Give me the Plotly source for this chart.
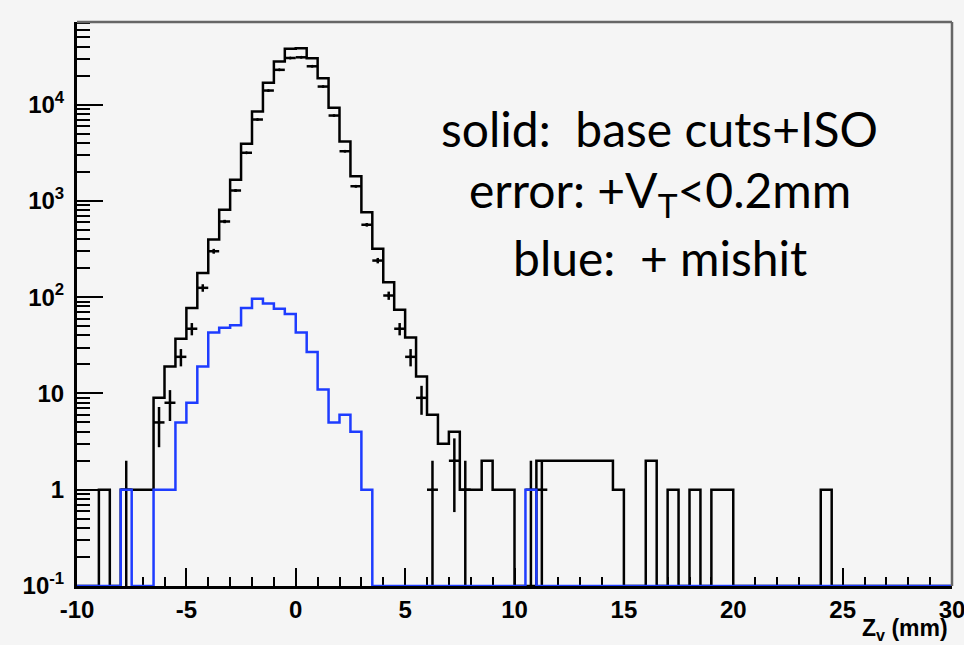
import numpy as np
import plotly.graph_objects as go

# ---- data (0.5 mm bins from -10 to 30 mm) ----
z_lo, z_hi, z_bin = -10.0, 30.0, 0.5

solid_counts = [0, 0, 1, 0, 1, 1, 1, 9, 19, 37,
                77, 178, 397, 809, 1656, 3917, 8480, 16830, 28000, 37950,
                38500, 30300, 18800, 9270, 4140, 1806, 763, 318, 143, 74,
                38, 15, 6, 3, 4, 1, 1, 2, 1, 1,
                0, 0, 2, 2, 2, 2, 2, 2, 2, 1,
                0, 0, 2, 0, 1, 0, 1, 0, 1, 1,
                0, 0, 0, 0, 0, 0, 0, 0, 1, 0,
                0, 0, 0, 0, 0, 0, 0, 0, 0, 0]

mishit_counts = [0, 0, 0, 0, 1, 0, 0, 1, 1, 5,
                 8, 19, 43, 48, 51, 77, 96, 86, 76, 67,
                 43, 27, 11, 5, 6, 4, 1, 0, 0, 0,
                 0, 0, 0, 0, 0, 0, 0, 0, 0, 0,
                 0, 1, 0, 0, 0, 0, 0, 0, 0, 0,
                 0, 0, 0, 0, 0, 0, 0, 0, 0, 0,
                 0, 0, 0, 0, 0, 0, 0, 0, 0, 0,
                 0, 0, 0, 0, 0, 0, 0, 0, 0, 0]

vt_counts = [0, 0, 0, 0, 1, 0, 0, 5, 8, 24,
             47, 125, 300, 611, 1282, 3160, 7000, 14000, 22970, 30500,
             31000, 25000, 15400, 7700, 3280, 1420, 565, 240, 104, 47,
             24, 9, 1, 0, 2, 1, 0, 0, 0, 0,
             0, 1, 1, 0, 0, 0, 0, 0, 0, 0,
             0, 0, 0, 0, 0, 0, 0, 0, 0, 0,
             0, 0, 0, 0, 0, 0, 0, 0, 0, 0,
             0, 0, 0, 0, 0, 0, 0, 0, 0, 0]

x_tick_vals = [-10, -5, 0, 5, 10, 15, 20, 25, 30]
y_tick_vals = [0.1, 1, 10, 100, 1000, 10000]
y_tick_text = ["<b>10<sup>-1</sup></b>", "<b>1</b>", "<b>10</b>", "<b>10<sup>2</sup></b>",
               "<b>10<sup>3</sup></b>", "<b>10<sup>4</sup></b>"]
y_min, y_max_log = 0.1, 4.858

# ---- derived ----
edges = np.arange(z_lo, z_hi + z_bin / 2, z_bin)
centers = edges[:-1] + z_bin / 2


def step_xy(counts):
    c = np.array(counts, dtype=float)
    c = np.where(c > 0, c, y_min)
    x = np.append(edges[:-1], edges[-1])
    y = np.append(c, c[-1])
    return x, y


fig = go.Figure()

sx, sy = step_xy(solid_counts)
fig.add_trace(go.Scatter(x=sx, y=sy, mode="lines", line=dict(color="black", width=2.5, shape="hv"),
                         showlegend=False, hoverinfo="skip"))

vt = np.array(vt_counts, dtype=float)
m = vt > 0
vn = vt[m]
err_up = np.sqrt(vn)
err_dn = vn - np.maximum(vn - np.sqrt(vn), y_min)
fig.add_trace(go.Scatter(x=centers[m], y=vn, mode="markers",
                         marker=dict(color="black", size=3),
                         error_x=dict(type="constant", value=z_bin / 2, color="black", thickness=2.5, width=0),
                         error_y=dict(type="data", array=err_up, arrayminus=err_dn, color="black",
                                      thickness=2.5, width=0),
                         showlegend=False, hoverinfo="skip"))

bx, by = step_xy(mishit_counts)
fig.add_trace(go.Scatter(x=bx, y=by, mode="lines", line=dict(color="rgb(30,60,255)", width=2.5, shape="hv"),
                         showlegend=False, hoverinfo="skip"))

tickfont = dict(family="Liberation Sans, Arial, sans-serif", size=24, color="black")

fig.update_layout(
    width=964, height=645, autosize=False,
    margin=dict(l=77, r=12, t=22, b=59, autoexpand=False),
    paper_bgcolor="#f5f5f5", plot_bgcolor="#f5f5f5",
    xaxis=dict(range=[z_lo, z_hi], tickmode="array", tickvals=x_tick_vals,
               ticktext=[f"<b>{v}</b>" for v in x_tick_vals],
               ticks="inside", ticklen=18, tickwidth=2, tickcolor="black",
               minor=dict(dtick=1, tick0=0, ticks="inside", ticklen=9, tickwidth=2, tickcolor="black"),
               showline=True, linecolor="black", linewidth=3, mirror=False,
               showgrid=False, zeroline=False, tickfont=tickfont, ticklabelstandoff=0,
               ticklabeloverflow="allow", automargin=False, layer="below traces"),
    yaxis=dict(type="log", range=[np.log10(y_min), y_max_log], tickmode="array",
               tickvals=y_tick_vals, ticktext=y_tick_text,
               ticks="inside", ticklen=26, tickwidth=2, tickcolor="black",
               minor=dict(tickvals=[k * 10.0 ** e for e in range(-1, 5) for k in range(2, 10)],
                          ticks="inside", ticklen=13, tickwidth=2, tickcolor="black"),
               showline=True, linecolor="black", linewidth=3, mirror=False,
               showgrid=False, zeroline=False, tickfont=tickfont, ticklabelstandoff=5,
               automargin=False, layer="below traces"),
)

# frame (top and right)
fig.add_shape(type="line", xref="paper", yref="paper", x0=0, x1=1, y0=1, y1=1,
              line=dict(color="#666666", width=2.5))
fig.add_shape(type="line", xref="paper", yref="paper", x0=1, x1=1, y0=0, y1=1,
              line=dict(color="#666666", width=2.5))

txt_font = dict(family="Lato, sans-serif", size=48, color="black")
for txt, yy in [("solid:  base cuts+ISO", 0.812),
                ("error: +V<sub>T</sub><0.2mm", 0.697),
                ("blue:  + mishit", 0.582)]:
    fig.add_annotation(text=txt, xref="paper", yref="paper", x=0.666, y=yy,
                       xanchor="center", yanchor="middle", showarrow=False, font=txt_font)

fig.add_annotation(text="<b>Z<sub>v</sub> (mm)</b>", xref="paper", yref="paper", x=0.998, y=-0.077,
                   xanchor="right", yanchor="middle", showarrow=False,
                   font=dict(family="Liberation Sans, Arial, sans-serif", size=23, color="black"))

fig.write_html("out.html")
